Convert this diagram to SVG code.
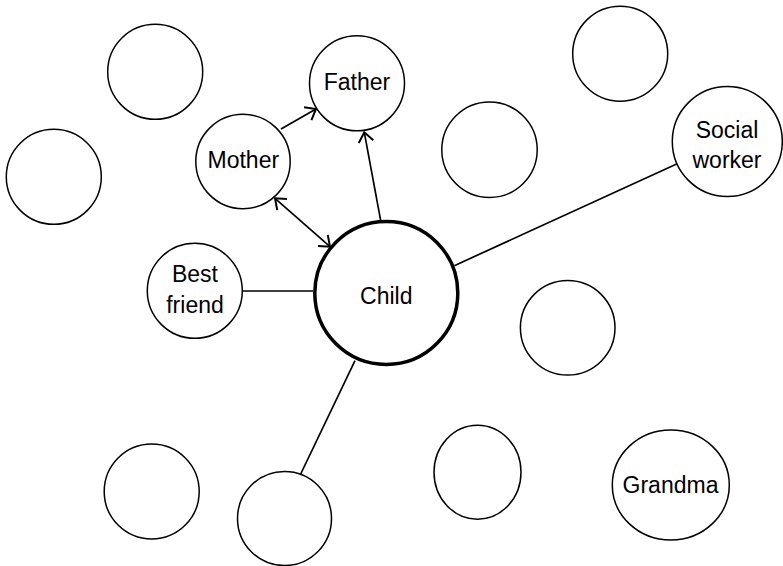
<svg xmlns="http://www.w3.org/2000/svg" width="783" height="566" viewBox="0 0 783 566">
<style>
.n{fill:#fff;stroke:#000;stroke-width:1.5}
.c{fill:#fff;stroke:#000;stroke-width:3.5}
.t{font-family:"Liberation Sans",Arial,sans-serif;font-size:23px;fill:#000;text-anchor:middle}
.e{stroke:#000;stroke-width:1.7;fill:none}
</style>
<defs>
<marker id="ah" markerUnits="userSpaceOnUse" markerWidth="16" markerHeight="18" refX="12" refY="8" orient="auto-start-reverse" overflow="visible">
<path d="M2.5,0.6 L12,8 L2.5,15.4" fill="none" stroke="#000" stroke-width="2"/>
</marker>
</defs>
<rect width="783" height="566" fill="#fff"/>
<g id="connectors">
<line class="e" x1="281" y1="129" x2="316" y2="109" marker-end="url(#ah)"/>
<line class="e" x1="380.7" y1="220.7" x2="364.3" y2="132.3" marker-end="url(#ah)"/>
<line class="e" x1="275" y1="198.3" x2="330" y2="246.7" marker-start="url(#ah)" marker-end="url(#ah)"/>
<line class="e" x1="242" y1="291" x2="313" y2="291"/>
<line class="e" x1="454.3" y1="265.7" x2="678.3" y2="163.3"/>
<line class="e" x1="355" y1="360.7" x2="300.7" y2="474"/>
</g>
<g id="n-topleft"><circle class="n" cx="155.2" cy="71.8" r="47.5"/></g>
<g id="n-left"><circle class="n" cx="53.8" cy="176.8" r="47.5"/></g>
<g id="n-father"><circle class="n" cx="357" cy="83.3" r="47.5"/><text class="t" x="357" y="90">Father</text></g>
<g id="n-mother"><circle class="n" cx="243" cy="161.5" r="47.2"/><text class="t" x="243.3" y="167.7">Mother</text></g>
<g id="n-midtop"><circle class="n" cx="489.5" cy="149.8" r="47.7"/></g>
<g id="n-topright"><circle class="n" cx="620.2" cy="53.7" r="47.5"/></g>
<g id="n-social"><circle class="n" cx="727.3" cy="141.5" r="55"/><text class="t" x="727" y="138.3">Social</text><text class="t" x="727" y="168.3">worker</text></g>
<g id="n-bestfriend"><circle class="n" cx="194.8" cy="290.8" r="47.5"/><text class="t" x="195" y="281.7">Best</text><text class="t" x="195" y="312.7">friend</text></g>
<g id="n-child"><circle class="c" cx="386.3" cy="293" r="71.5"/><text class="t" x="386.3" y="304.3">Child</text></g>
<g id="n-rightmid"><circle class="n" cx="567.7" cy="327.8" r="47.3"/></g>
<g id="n-bottomleft"><circle class="n" cx="151.7" cy="491.5" r="47.5"/></g>
<g id="n-bottom"><circle class="n" cx="284.5" cy="518.5" r="47"/></g>
<g id="n-bottommid"><ellipse class="n" cx="477.5" cy="472.2" rx="43.5" ry="47"/></g>
<g id="n-grandma"><ellipse class="n" cx="670.8" cy="485" rx="58.5" ry="55"/><text class="t" x="670.5" y="492.7">Grandma</text></g>
</svg>
